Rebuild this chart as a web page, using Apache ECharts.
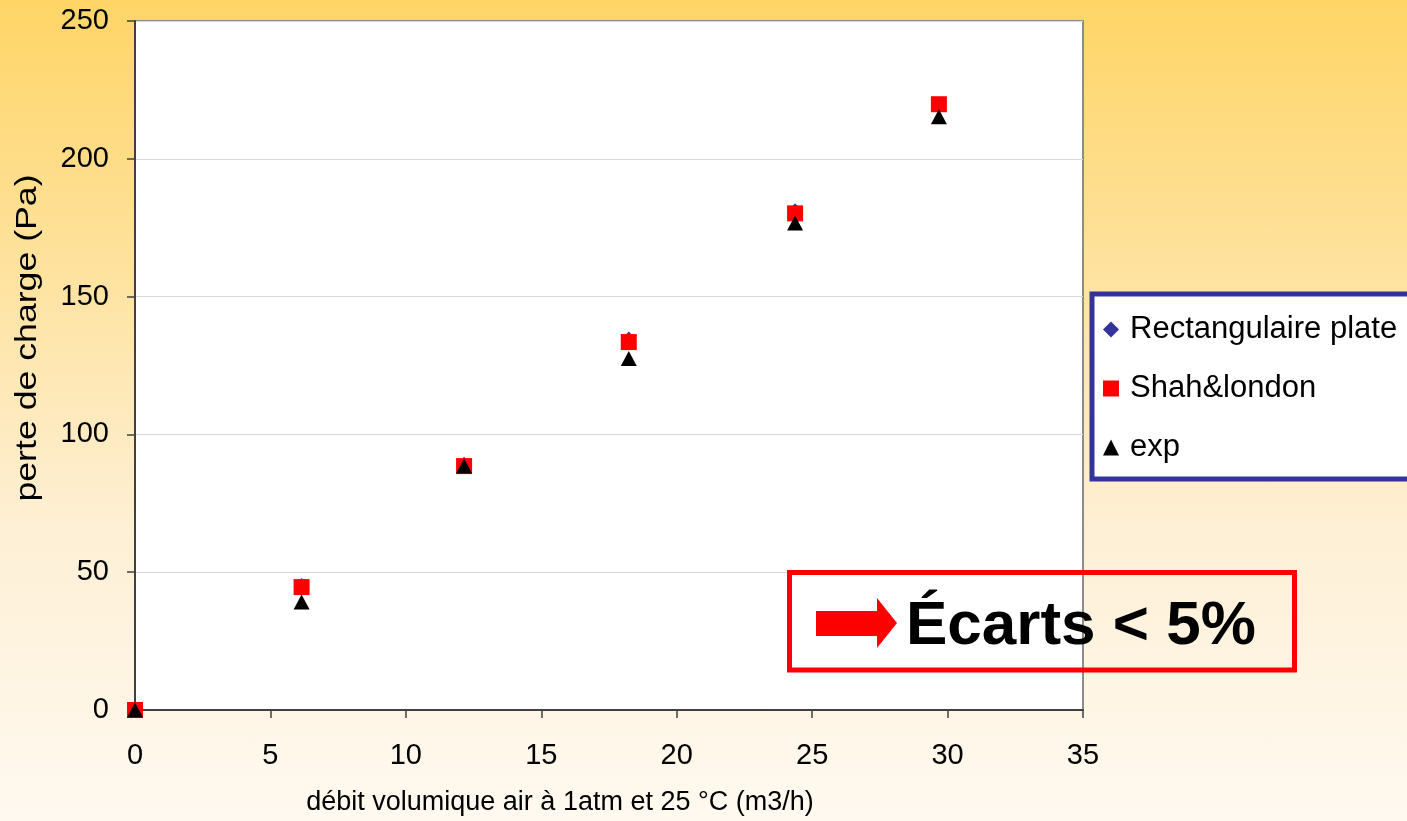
<!DOCTYPE html>
<html>
<head>
<meta charset="utf-8">
<script src="https://cdn.jsdelivr.net/npm/echarts@6/dist/echarts.min.js"></script>
<style>
  html, body { margin: 0; padding: 0; }
  body {
    width: 1407px; height: 821px; overflow: hidden;
    background: linear-gradient(to bottom, #FFD566 0%, #FEE3A2 35%, #FEF0D6 65%, #FFF9F0 100%);
  }
  #chart { width: 1407px; height: 821px; }
</style>
</head>
<body>
<div id="chart"></div>
<script>
// Volumetric air flow (m3/h)
const debit = [0, 6.15, 12.15, 18.23, 24.37, 29.68];
// Pressure drop (Pa) per model / measurement
const rectangulairePlate = [0, 45.5, 89.5, 135, 181.5, 220];
const shahLondon = [0, 44.6, 88.5, 133.5, 180.2, 219.8];
const experience = [0, 39.2, 88.5, 127.5, 176.7, 215.3];

const seriesNames = ['Rectangulaire plate', 'Shah&london', 'exp'];
const xAxisTitle = 'débit volumique air à 1atm et 25 °C (m3/h)';
const yAxisTitle = 'perte de charge (Pa)';
const noteText = 'Écarts < 5%';

const pairs = (xs, ys) => xs.map((x, i) => [x, ys[i]]);

const FONT = 'Liberation Sans, Arial, sans-serif';

const chart = echarts.init(document.getElementById('chart'), null, { renderer: 'canvas' });

chart.setOption({
  animation: false,
  backgroundColor: 'transparent',
  grid: {
    left: 135, top: 21, right: 324, bottom: 110,
    show: true, backgroundColor: '#FFFFFF',
    borderColor: '#8C8C8C', borderWidth: 2
  },
  xAxis: {
    type: 'value', min: 0, max: 35, interval: 5,
    name: xAxisTitle, nameLocation: 'middle', nameGap: 79,
    nameTextStyle: { fontFamily: FONT, fontSize: 27, color: '#000', padding: [0, 98, 0, 0] },
    axisLine: { show: true, onZero: false, lineStyle: { color: '#404040', width: 2 } },
    axisTick: { show: true, inside: false, length: 8, lineStyle: { color: '#404040', width: 1.5 } },
    axisLabel: { fontFamily: FONT, fontSize: 29, color: '#000', margin: 31 },
    splitLine: { show: false }
  },
  yAxis: {
    type: 'value', min: 0, max: 250, interval: 50,
    axisLine: { show: true, lineStyle: { color: '#404040', width: 2 } },
    axisTick: { show: true, inside: false, length: 8, lineStyle: { color: '#404040', width: 1.5 } },
    axisLabel: { fontFamily: FONT, fontSize: 29, color: '#000', margin: 26 },
    splitLine: { show: true, lineStyle: { color: '#D9D9D9', width: 1 } }
  },
  legend: {
    orient: 'vertical',
    left: 1092, top: 294,
    padding: [20, 80, 16, 11],
    itemGap: 28,
    itemWidth: 16, itemHeight: 16,
    backgroundColor: '#FFFFFF',
    borderColor: '#333399', borderWidth: 5, borderRadius: 0,
    textStyle: { fontFamily: FONT, fontSize: 31, color: '#000', padding: [0, 0, 0, 6] },
    data: seriesNames
  },
  series: [
    {
      name: seriesNames[0], type: 'scatter',
      symbol: 'diamond', symbolSize: [12, 13],
      itemStyle: { color: '#333399', opacity: 1 },
      data: pairs(debit, rectangulairePlate)
    },
    {
      name: seriesNames[1], type: 'scatter',
      symbol: 'rect', symbolSize: 16,
      itemStyle: { color: '#FF0000', opacity: 1 },
      data: pairs(debit, shahLondon)
    },
    {
      name: seriesNames[2], type: 'scatter',
      symbol: 'triangle', symbolSize: [16, 15],
      itemStyle: { color: '#000000', opacity: 1 },
      data: pairs(debit, experience)
    }
  ],
  graphic: [
    {
      // vertical axis title, slightly widened along its reading direction
      type: 'text', x: 28, y: 338, rotation: Math.PI / 2, scaleX: 1.23,
      style: {
        text: yAxisTitle, font: '29px Liberation Sans, Arial, sans-serif',
        fill: '#000', textAlign: 'center', textVerticalAlign: 'middle'
      }
    },
    {
      type: 'rect', z: 100,
      shape: { x: 789.5, y: 572.5, width: 505, height: 97.5 },
      style: { fill: 'none', stroke: '#FF0000', lineWidth: 5 }
    },
    {
      type: 'polygon', z: 100,
      shape: { points: [[816, 611], [877, 611], [877, 598], [897, 623], [877, 648], [877, 636], [816, 636]] },
      style: { fill: '#FF0000' }
    },
    {
      type: 'text', z: 100,
      style: {
        x: 906, y: 627, text: noteText,
        font: 'bold 62px Liberation Sans, Arial, sans-serif',
        fill: '#000', textAlign: 'left', textVerticalAlign: 'middle'
      }
    }
  ]
});
</script>
</body>
</html>
